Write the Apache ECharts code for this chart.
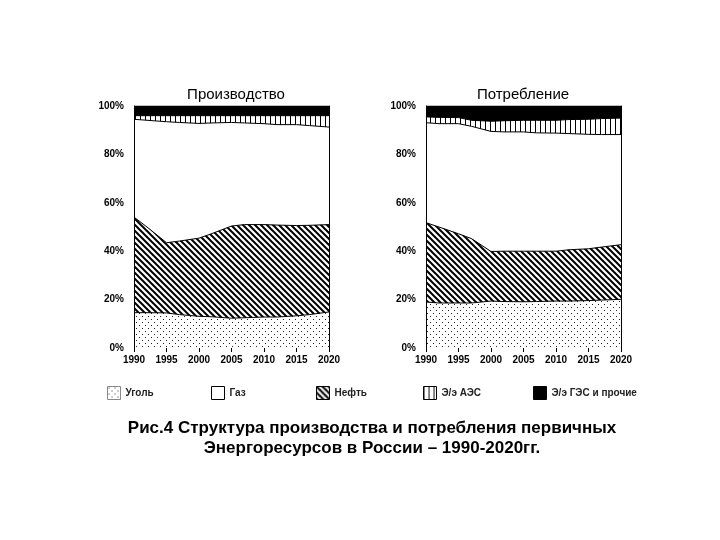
<!DOCTYPE html>
<html>
<head>
<meta charset="utf-8">
<script src="https://cdn.jsdelivr.net/npm/echarts@6/dist/echarts.min.js"></script>
<style>html,body{margin:0;padding:0;background:#fff}#c{width:720px;height:540px}</style>
</head>
<body>
<div id="c"></div>
<script>
// ---- data (shares, %) ----
const years = [1990, 1992, 1995, 1997, 2000, 2002, 2005, 2007, 2010, 2012, 2015, 2017, 2020];
const xTicks = [1990, 1995, 2000, 2005, 2010, 2015, 2020];
const yTicks = ['0%', '20%', '40%', '60%', '80%', '100%'];
const seriesNames = ['Уголь', 'Газ', 'Нефть', 'Э/э АЭС', 'Э/э ГЭС и прочие'];

// Производство
const prodCoal    = [14.6, 14.6, 14.5, 13.8, 13.1, 12.9, 12.3, 12.5, 12.8, 12.8, 13.3, 13.8, 14.9];
const prodOil     = [39.5, 35.4, 29.0, 30.4, 32.3, 34.4, 38.1, 38.5, 38.2, 38.0, 37.3, 36.9, 36.1];
const prodGas     = [40.4, 44.1, 50.0, 49.0, 47.4, 45.7, 42.8, 42.0, 41.7, 41.5, 41.7, 41.2, 40.3];
const prodNuclear = [1.5, 1.9, 2.5, 2.8, 3.2, 3.0, 2.8, 3.0, 3.3, 3.7, 3.7, 4.1, 4.7];
const prodHydro   = [4.0, 4.0, 4.0, 4.0, 4.0, 4.0, 4.0, 4.0, 4.0, 4.0, 4.0, 4.0, 4.0];

// Потребление
const consCoal    = [19.0, 18.6, 18.6, 18.6, 19.4, 19.2, 19.1, 19.2, 19.4, 19.4, 19.6, 19.8, 20.1];
const consOil     = [32.8, 31.4, 28.6, 26.6, 20.5, 20.8, 20.9, 20.8, 20.6, 21.2, 21.4, 21.9, 22.6];
const consGas     = [41.3, 42.7, 45.5, 46.4, 49.6, 49.3, 49.3, 48.9, 48.8, 48.0, 47.3, 46.5, 45.5];
const consNuclear = [2.4, 2.6, 2.5, 2.5, 4.2, 4.6, 4.8, 5.2, 5.3, 5.8, 6.2, 6.6, 6.8];
const consHydro   = [4.5, 4.7, 4.8, 5.9, 6.3, 6.1, 5.9, 5.9, 5.9, 5.6, 5.5, 5.2, 5.0];

const titles = ['Производство', 'Потребление'];
const captionText = 'Рис.4 Структура производства и потребления первичных\nЭнергоресурсов в России – 1990-2020гг.';

// ---- patterns ----
function tile(w, h, draw) {
  const c = document.createElement('canvas');
  c.width = w; c.height = h;
  const ctx = c.getContext('2d');
  ctx.fillStyle = '#fff'; ctx.fillRect(0, 0, w, h);
  draw(ctx);
  return { image: c, repeat: 'repeat' };
}
const patDots = tile(6, 6, ctx => {
  ctx.fillStyle = '#222';
  ctx.fillRect(1, 1, 1, 1);
  ctx.fillRect(4, 4, 1, 1);
});
const patHatch = tile(6, 6, ctx => {
  ctx.strokeStyle = '#000'; ctx.lineWidth = 2;
  ctx.beginPath();
  ctx.moveTo(-1, -1); ctx.lineTo(7, 7);
  ctx.moveTo(-7, -1); ctx.lineTo(1, 7);
  ctx.moveTo(5, -1); ctx.lineTo(13, 7);
  ctx.stroke();
});
const patV = tile(5, 4, ctx => {
  ctx.fillStyle = '#000';
  ctx.fillRect(0, 0, 1, 4);
});
const fills = { 'Уголь': patDots, 'Газ': '#ffffff', 'Нефть': patHatch, 'Э/э АЭС': patV, 'Э/э ГЭС и прочие': '#000000' };

const FONT = '"Liberation Sans", Arial, sans-serif';

// layers bottom->top: coal, oil, gas, nuclear, hydro.
// Cumulative tops are computed, then drawn top layer first so lower layers overlay it.
function makeSeries(gi, list) {
  const cum = [];
  let run = years.map(() => 0);
  list.forEach(([name, arr]) => {
    run = run.map((v, i) => v + arr[i]);
    cum.push([name, run.slice()]);
  });
  return cum.reverse().map(([name, tops], k) => ({
    type: 'line', name: name, xAxisIndex: gi, yAxisIndex: gi * 2,
    data: years.map((y, i) => [y, Math.min(100, tops[i])]),
    showSymbol: false, symbol: 'none', silent: true,
    lineStyle: { color: '#000', width: 1 },
    itemStyle: { color: fills[name] },
    areaStyle: { color: fills[name], opacity: 1, origin: 'start' },
    z: 2 + k
  }));
}

const grids = [
  { left: 134, right: 391, top: 106, bottom: 192 },
  { left: 426, right: 99, top: 106, bottom: 192 }
];

const xAxes = grids.map((g, i) => ({
  type: 'value', gridIndex: i, min: 1990, max: 2020, interval: 5,
  axisLine: { show: false },
  axisTick: { show: true, length: 4, lineStyle: { color: '#000' } },
  splitLine: { show: false },
  axisLabel: { color: '#000', fontWeight: 'bold', fontSize: 10, fontFamily: FONT, margin: 7,
    formatter: v => (xTicks.indexOf(v) >= 0 ? String(v) : '') }
}));
const yAxes = [];
grids.forEach((g, i) => {
  yAxes.push({
    type: 'value', gridIndex: i, min: 0, max: 100, interval: 20,
    axisLine: { show: true, lineStyle: { color: '#000', width: 1 } },
    axisTick: { show: false }, splitLine: { show: false }, z: 20,
    axisLabel: { color: '#000', fontWeight: 'bold', fontSize: 10, fontFamily: FONT, margin: 10,
      formatter: v => yTicks[Math.round(v / 20)] }
  });
  yAxes.push({
    type: 'value', gridIndex: i, min: 0, max: 100, position: 'right', z: 20,
    axisLine: { show: true, lineStyle: { color: '#000', width: 1 } },
    axisTick: { show: false }, splitLine: { show: false }, axisLabel: { show: false }
  });
});

const legendLefts = [107, 211, 316, 423, 533];
const legends = seriesNames.map((n, i) => ({
  data: [n], left: legendLefts[i], top: 386, icon: 'rect', itemWidth: 13, itemHeight: 13,
  selectedMode: false, padding: 0,
  itemStyle: { borderColor: i === 0 ? '#888' : '#000', borderWidth: 1 },
  textStyle: { color: '#222', fontSize: 10, fontWeight: 'bold', fontFamily: FONT }
}));

const option = {
  backgroundColor: '#fff',
  animation: false,
  title: [
    { text: titles[0], left: 236, top: 87, textAlign: 'center', padding: 0,
      textStyle: { fontSize: 15, fontWeight: 'normal', color: '#000', fontFamily: FONT } },
    { text: titles[1], left: 523, top: 87, textAlign: 'center', padding: 0,
      textStyle: { fontSize: 15, fontWeight: 'normal', color: '#000', fontFamily: FONT } },
    { text: captionText, left: 372, top: 418, textAlign: 'center', padding: 0,
      textStyle: { fontSize: 17, fontWeight: 'bold', color: '#000', fontFamily: FONT, lineHeight: 20 } }
  ],
  legend: legends,
  grid: grids,
  xAxis: xAxes,
  yAxis: yAxes,
  series: [
    ...makeSeries(0, [['Уголь', prodCoal], ['Нефть', prodOil], ['Газ', prodGas], ['Э/э АЭС', prodNuclear], ['Э/э ГЭС и прочие', prodHydro]]),
    ...makeSeries(1, [['Уголь', consCoal], ['Нефть', consOil], ['Газ', consGas], ['Э/э АЭС', consNuclear], ['Э/э ГЭС и прочие', consHydro]])
  ]
};

const chart = echarts.init(document.getElementById('c'), null, { renderer: 'canvas' });
chart.setOption(option);
</script>
</body>
</html>
